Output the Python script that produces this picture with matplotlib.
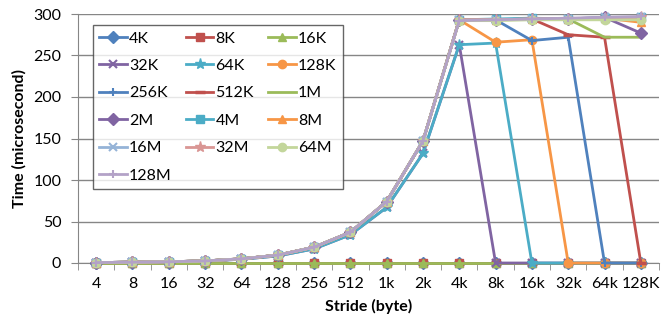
import matplotlib.pyplot as plt

strides = ['4', '8', '16', '32', '64', '128', '256', '512', '1k', '2k',
           '4k', '8k', '16k', '32k', '64k', '128K']

sizes = ['4K', '8K', '16K', '32K', '64K', '128K', '256K', '512K',
         '1M', '2M', '4M', '8M', '16M', '32M', '64M', '128M']

s4K = [0, 0, 0, 0, 0, 0, 0, 0, 0, 0, 0, 0, 0, 0, 0, 0]
s8K = [0, 0, 0, 0, 0, 0, 0, 0, 0, 0, 0, 0, 0, 0, 0, 0]
s16K = [0, 0, 0, 0, 0, 0, 0, 0, 0, 0, 0, 0, 0, 0, 0, 0]
s32K = [0.5, 1, 1.5, 2.5, 4.5, 8.5, 17, 34, 67, 132, 263, 0, 0, 0, 0, 0]
s64K = [0.5, 1, 1.5, 2.5, 4.5, 8.5, 17, 34, 67, 132, 263, 265, 0, 0, 0, 0]
s128K = [0.5, 1, 1.5, 2.5, 5, 9.5, 19, 37, 74, 147, 293, 266, 269, 0, 0, 0]
s256K = [0.5, 1, 1.5, 2.5, 5, 9.5, 19, 37, 74, 147, 293, 293, 268, 272, 0, 0]
s512K = [0.5, 1, 1.5, 2.5, 5, 9.5, 19, 37, 74, 147, 293, 293, 294, 275, 272, 0]
s1M = [0.5, 1, 1.5, 2.5, 5, 9.5, 19, 37, 74, 147, 293, 293, 294, 294, 272, 272]
s2M = [0.5, 1, 1.5, 2.5, 5, 9.5, 19, 37, 74, 147, 293, 293, 294, 294, 296, 277]
s4M = [0.5, 1, 1.5, 2.5, 5, 9.5, 19, 37, 74, 147, 293, 294, 295, 294, 295, 296]
s8M = [0.5, 1, 1.5, 2.5, 5, 9.5, 19, 37, 74, 147, 293, 293, 294, 294, 295, 290]
s16M = [0.5, 1, 1.5, 2.5, 5, 9.5, 19, 37, 74, 147, 293, 293, 294, 294, 296, 296]
s32M = [0.5, 1, 1.5, 2.5, 5, 9.5, 19, 37, 74, 147, 293, 293, 294, 294, 295, 296]
s64M = [0.5, 1, 1.5, 2.5, 5, 9.5, 19, 37, 74, 147, 292, 292, 293, 293, 293, 293]
s128M = [0.5, 1, 1.5, 2.5, 5, 9.5, 19, 37, 74, 147, 292, 293, 294, 295, 296, 297]

series = [s4K, s8K, s16K, s32K, s64K, s128K, s256K, s512K,
          s1M, s2M, s4M, s8M, s16M, s32M, s64M, s128M]

colors = ['#4F81BD', '#C0504D', '#9BBB59', '#8064A2', '#4BACC6', '#F79646',
          '#4F81BD', '#C0504D', '#9BBB59', '#8064A2', '#4BACC6', '#F79646',
          '#95B3D7', '#D99694', '#C3D69B', '#B3A2C7']
markers = ['D', 's', '^', 'x', '*', 'o', '+', '_', '', 'D', 's', '^',
           'x', '*', 'o', '+']

plt.rcParams['font.family'] = ['Lato', 'DejaVu Sans']
fs = 11.5

fig = plt.figure(figsize=(6.61, 3.2), dpi=100)
ax = fig.add_axes([78 / 661, 57 / 320, 581 / 661, 249 / 320])

x = list(range(len(strides)))
handles = []
for name, ys, c, m in zip(sizes, series, colors, markers):
    mew = 1.5 if m in ('x', '+', '_') else 1
    ms = 6
    if m == '*':
        ms = 8
    if m == '_':
        ms = 7
        mew = 2.5
    h, = ax.plot(x, ys, color=c, lw=2, marker=m if m else None, ms=ms,
                 mew=mew, mec=c, mfc=c, label=name, clip_on=False, zorder=3)
    handles.append(h)

ax.set_xlim(-0.5, len(strides) - 0.5)
ax.set_ylim(0, 300)
ax.set_yticks(range(0, 301, 50))
ax.set_xticks(x)
ax.set_xticklabels(strides)
ax.set_xticks([i + 0.5 for i in range(-1, len(strides))], minor=True)
ax.tick_params(axis='x', which='major', length=0, pad=10, labelsize=fs)
ax.tick_params(axis='x', which='minor', length=5, color='#868686', direction='out')
ax.tick_params(axis='y', length=5, color='#868686', labelsize=fs, pad=7)
ax.yaxis.grid(True, color='#868686', lw=1)
ax.set_axisbelow(True)
for sp in ['top', 'right']:
    ax.spines[sp].set_visible(False)
for sp in ['left', 'bottom']:
    ax.spines[sp].set_color('#868686')

ax.set_xlabel('Stride (byte)', fontweight='bold', fontsize=fs, labelpad=6)
ax.set_ylabel('Time (microsecond)', fontweight='bold', fontsize=fs, labelpad=5)

# legend is filled row by row in the reference
order = []
for col in range(3):
    order += list(range(col, len(handles), 3))
leg = ax.legend([handles[i] for i in order], [sizes[i] for i in order],
                ncol=3, loc='upper left', bbox_to_anchor=(15 / 581, 1 - 11 / 249),
                borderaxespad=0, frameon=True, fancybox=False, fontsize=fs,
                handlelength=1.7, columnspacing=0.9, handletextpad=0.15,
                labelspacing=0.83, borderpad=0.4)
leg.get_frame().set_edgecolor('#404040')
leg.get_frame().set_linewidth(1)
leg.set_zorder(5)

fig.savefig('out.png', dpi=100)
